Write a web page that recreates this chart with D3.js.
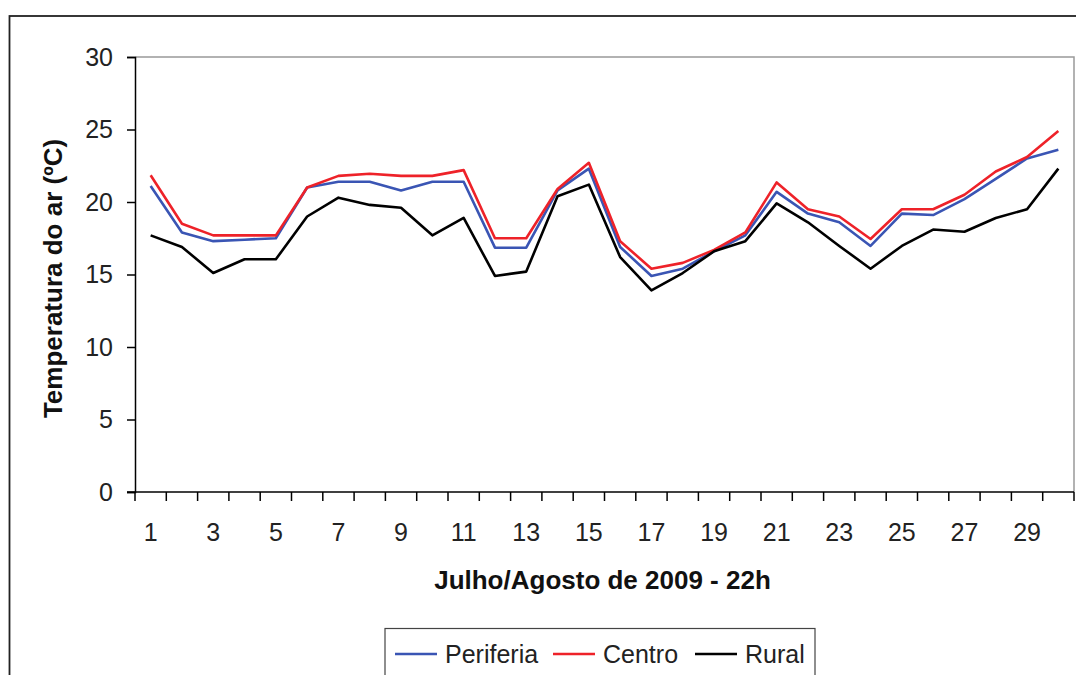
<!DOCTYPE html>
<html>
<head>
<meta charset="utf-8">
<script src="https://cdn.jsdelivr.net/npm/d3@7"></script>
<style>
  html, body { margin: 0; padding: 0; background: #fff; }
  svg { display: block; }
  text { font-family: "Liberation Sans", Arial, sans-serif; }
</style>
</head>
<body>
<svg id="chart" width="1076" height="675"></svg>
<script>
// ---- Data ----
const days = d3.range(1, 31);
const dayLabels = days.filter(d => d % 2 === 1);
const periferia = [21.1, 17.9, 17.3, 17.4, 17.5, 21.0, 21.4, 21.4, 20.8, 21.4,
                   21.4, 16.85, 16.85, 20.8, 22.3, 16.9, 14.9, 15.4, 16.6, 17.7,
                   20.7, 19.2, 18.6, 16.97, 19.2, 19.1, 20.2, 21.6, 23.0, 23.6];
const centro    = [21.85, 18.5, 17.7, 17.7, 17.7, 21.0, 21.8, 21.95, 21.8, 21.8,
                   22.2, 17.5, 17.5, 20.9, 22.7, 17.3, 15.4, 15.8, 16.7, 17.9,
                   21.35, 19.5, 19.0, 17.45, 19.5, 19.5, 20.5, 22.1, 23.1, 24.9];
const rural     = [17.7, 16.9, 15.1, 16.05, 16.05, 19.0, 20.3, 19.8, 19.6, 17.7,
                   18.9, 14.9, 15.2, 20.4, 21.2, 16.2, 13.9, 15.1, 16.6, 17.3,
                   19.9, 18.6, 16.97, 15.4, 16.97, 18.1, 17.95, 18.9, 19.5, 22.3];
const yTicks = [0, 5, 10, 15, 20, 25, 30];
const seriesNames = ["Periferia", "Centro", "Rural"];
const seriesColors = ["#3a55b4", "#ee2229", "#000000"];
const seriesData = [periferia, centro, rural];

const xTitle = "Julho/Agosto de 2009 - 22h";
const yTitle = "Temperatura do ar (ºC)";

// ---- Layout ----
const svg = d3.select("#chart");
const L = 135, R = 1074, T = 57, B = 492;

// outer frame
svg.append("rect")
  .attr("x", 9.5).attr("y", 16)
  .attr("width", 1100).attr("height", 700)
  .attr("fill", "none").attr("stroke", "#222").attr("stroke-width", 1.8);

const x = d3.scaleBand().domain(days).range([L, R]).padding(0);
const y = d3.scaleLinear().domain([0, 30]).range([B, T]);

// plot area border (gray top & right)
svg.append("path")
  .attr("d", `M${L},${T}H${R}V${B}`)
  .attr("fill", "none").attr("stroke", "#999").attr("stroke-width", 1.5);

// y axis
const yAxis = svg.append("g")
  .attr("transform", `translate(${L},0)`)
  .call(d3.axisLeft(y).tickValues(yTicks).tickSize(8).tickPadding(14).tickFormat(d3.format("d")));
yAxis.select(".domain").attr("stroke", "#000").attr("stroke-width", 1.5);
yAxis.selectAll(".tick line").attr("stroke", "#000").attr("stroke-width", 1.5);
yAxis.selectAll(".tick text")
  .attr("font-size", 25).attr("fill", "#222")
  .style("font-family", "'Liberation Sans', Arial, sans-serif");

// x axis labels
const xAxis = svg.append("g")
  .attr("transform", `translate(0,${B})`)
  .call(d3.axisBottom(x).tickValues(dayLabels).tickSize(0).tickPadding(31));
xAxis.select(".domain").remove();
xAxis.selectAll(".tick text")
  .attr("font-size", 25).attr("fill", "#222")
  .style("font-family", "'Liberation Sans', Arial, sans-serif");

// x axis line and boundary ticks
svg.append("line")
  .attr("x1", L - 8).attr("x2", R).attr("y1", B).attr("y2", B)
  .attr("stroke", "#000").attr("stroke-width", 1.5);
const bounds = days.map(d => x(d)).concat([x(days[days.length - 1]) + x.bandwidth()]);
svg.append("g").selectAll("line").data(bounds).join("line")
  .attr("x1", d => d).attr("x2", d => d)
  .attr("y1", B).attr("y2", B + 9)
  .attr("stroke", "#000").attr("stroke-width", 1.5);

// lines
const line = d3.line()
  .x((d, i) => x(days[i]) + x.bandwidth() / 2)
  .y(d => y(d));
svg.append("g").selectAll("path").data(seriesData).join("path")
  .attr("d", d => line(d))
  .attr("fill", "none")
  .attr("stroke", (d, i) => seriesColors[i])
  .attr("stroke-width", 2.6)
  .attr("stroke-linejoin", "round");

// axis titles
svg.append("text")
  .attr("x", (L + R) / 2 - 2).attr("y", 589)
  .attr("text-anchor", "middle")
  .attr("font-size", 26).attr("font-weight", "bold").attr("fill", "#111")
  .text(xTitle);
svg.append("text")
  .attr("transform", `translate(62,${(T + B) / 2 + 4}) rotate(-90)`)
  .attr("text-anchor", "middle")
  .attr("font-size", 26).attr("font-weight", "bold").attr("fill", "#111")
  .text(yTitle);

// legend
const lg = svg.append("g");
lg.append("rect")
  .attr("x", 385).attr("y", 628.5)
  .attr("width", 430).attr("height", 60)
  .attr("fill", "#fff").attr("stroke", "#444").attr("stroke-width", 1.2);
const legendX = [395, 553, 695];
seriesNames.forEach((name, i) => {
  lg.append("line")
    .attr("x1", legendX[i]).attr("x2", legendX[i] + 42)
    .attr("y1", 654).attr("y2", 654)
    .attr("stroke", seriesColors[i]).attr("stroke-width", 2.6);
  lg.append("text")
    .attr("x", legendX[i] + 50).attr("y", 663)
    .attr("font-size", 25).attr("fill", "#222")
    .text(name);
});
</script>
</body>
</html>
